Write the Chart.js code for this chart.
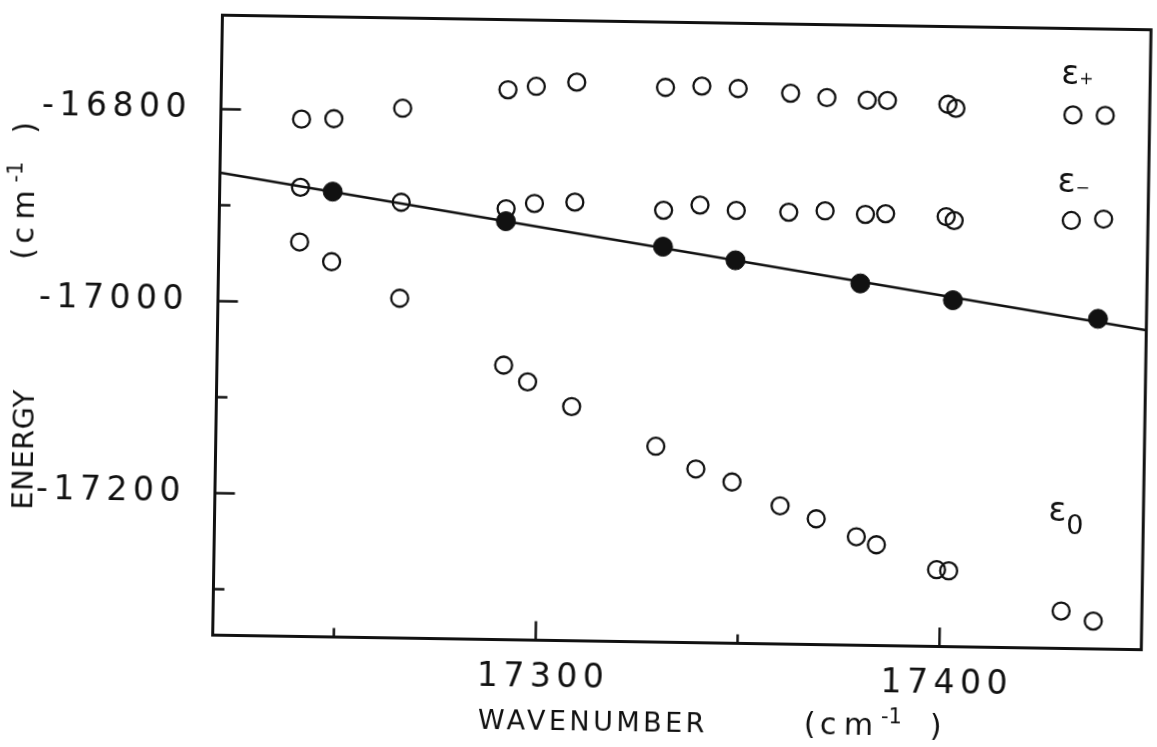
<!DOCTYPE html>
<html>
<head>
<meta charset="utf-8">
<script src="https://cdn.jsdelivr.net/npm/chart.js@4.4.1/dist/chart.umd.min.js"></script>
<style>
  html, body { margin: 0; padding: 0; background: #fff; overflow: hidden; }
  #wrap { position: relative; width: 1157px; height: 747px; background: #fff;
          transform: rotate(0.9deg); transform-origin: 685.5px 332.5px; }
</style>
</head>
<body>
<div id="wrap"><canvas id="grafico"></canvas></div>
<script>
// niveis abertos (epsilon +, -, 0)
const ePlusX = [17240, 17248, 17265, 17291, 17298, 17308, 17330, 17339, 17348, 17361, 17370, 17380, 17385, 17400, 17402, 17431, 17439];
const ePlusY = [-16809, -16808, -16796, -16775, -16771, -16766, -16770, -16768, -16770, -16774, -16778, -16780, -16780, -16783, -16787, -16792, -16792];

const eMinusX = [17240, 17265, 17291, 17298, 17308, 17330, 17339, 17348, 17361, 17370, 17380, 17385, 17400, 17402, 17431, 17439];
const eMinusY = [-16880, -16894, -16899, -16893, -16891, -16898, -16892, -16897, -16898, -16896, -16899, -16898, -16900, -16904, -16902, -16900];

const eZeroX = [17240, 17248, 17265, 17291, 17297, 17308, 17329, 17339, 17348, 17360, 17369, 17379, 17384, 17399, 17402, 17430, 17438];
const eZeroY = [-16937, -16957, -16994, -17062, -17079, -17104, -17144, -17167, -17180, -17204, -17217, -17235, -17243, -17268, -17269, -17309, -17319];

// pontos cheios e reta ajustada
const cheioX = [17248, 17291, 17330, 17348, 17379, 17402, 17438];
const cheioY = [-16884, -16912, -16936, -16949, -16971, -16987, -17004];
const retaX = [17220, 17450];
const retaY = [-16866, -17015];

const xTicks = [17250, 17300, 17350, 17400];
const xTickLabels = ['', '17300', '', '17400'];
const yTicks = [-17300, -17200, -17100, -17000, -16900, -16800];
const yTickLabels = ['', '-17200', '', '-17000', '', '-16800'];

const tinta = '#111';
const fonte = '"DejaVu Sans", sans-serif';

function pontos(xs, ys) {
  return xs.map((x, i) => ({ x: x, y: ys[i] }));
}

function circuloAberto(nome, xs, ys) {
  return {
    label: nome,
    data: pontos(xs, ys),
    pointRadius: 8.5,
    pointBorderWidth: 2.3,
    pointBorderColor: tinta,
    pointBackgroundColor: 'rgba(0,0,0,0)',
    order: 2
  };
}

// "(cm-1 )" com o expoente elevado
function unidade(ctx, x, y) {
  ctx.textAlign = 'left';
  ctx.letterSpacing = '0px';
  ctx.font = '30px ' + fonte;
  ctx.fillText('(', x, y);
  ctx.fillText('c', x + 16, y);
  ctx.fillText('m', x + 40, y);
  ctx.fillText(')', x + 126, y);
  ctx.font = '21px ' + fonte;
  ctx.fillText('-1', x + 77, y - 12);
}

function epsilon(ctx, px, py, sub, tamSub, descida) {
  ctx.textAlign = 'left';
  ctx.letterSpacing = '0px';
  ctx.font = '33px ' + fonte;
  ctx.fillText('ε', px, py);
  const w = ctx.measureText('ε').width;
  ctx.font = tamSub + 'px ' + fonte;
  ctx.fillText(sub, px + w, py + descida);
}

const moldura = {
  id: 'moldura',
  beforeLayout(chart) { chart.ctx.letterSpacing = '5.5px'; },
  beforeDraw(chart) { chart.ctx.letterSpacing = '5.5px'; },
  afterDraw(chart) {
    const ctx = chart.ctx;
    const a = chart.chartArea;
    const sx = chart.scales.x;
    const sy = chart.scales.y;
    ctx.save();
    ctx.strokeStyle = tinta;
    ctx.fillStyle = tinta;
    ctx.lineWidth = 3;
    ctx.strokeRect(a.left, a.top, a.right - a.left, a.bottom - a.top);

    // marcas para dentro
    ctx.lineWidth = 2.5;
    ctx.beginPath();
    xTicks.forEach((v, i) => {
      const px = sx.getPixelForValue(v);
      ctx.moveTo(px, a.bottom);
      ctx.lineTo(px, a.bottom - (xTickLabels[i] ? 19 : 9));
    });
    yTicks.forEach((v, i) => {
      const py = sy.getPixelForValue(v);
      ctx.moveTo(a.left, py);
      ctx.lineTo(a.left + (yTickLabels[i] ? 20 : 11), py);
    });
    ctx.stroke();

    // titulos dos eixos
    ctx.textBaseline = 'alphabetic';
    ctx.letterSpacing = '3.5px';
    ctx.font = '27px ' + fonte;
    ctx.textAlign = 'left';
    ctx.fillText('WAVENUMBER', 484, 732);
    unidade(ctx, 810, 732);

    ctx.save();
    ctx.translate(35, 460);
    ctx.rotate(-Math.PI / 2);
    ctx.letterSpacing = '0.5px';
    ctx.textAlign = 'center';
    ctx.font = '29px ' + fonte;
    ctx.fillText('ENERGY', 0, 0);
    ctx.restore();

    ctx.save();
    ctx.translate(32, 270);
    ctx.rotate(-Math.PI / 2);
    unidade(ctx, 0, 0);
    ctx.restore();

    // rotulos dos niveis
    epsilon(ctx, sx.getPixelForValue(17428), sy.getPixelForValue(-16760), '+', 17, 0);
    epsilon(ctx, sx.getPixelForValue(17427.5), sy.getPixelForValue(-16872), '−', 17, 1);
    epsilon(ctx, sx.getPixelForValue(17426.5), sy.getPixelForValue(-17215), '0', 27, 13);
    ctx.restore();
  }
};

new Chart(document.getElementById('grafico'), {
  type: 'scatter',
  data: {
    datasets: [
      circuloAberto('ε+', ePlusX, ePlusY),
      circuloAberto('ε-', eMinusX, eMinusY),
      circuloAberto('ε0', eZeroX, eZeroY),
      {
        label: 'cheios',
        data: pontos(cheioX, cheioY),
        pointRadius: 9.5,
        pointBorderWidth: 1,
        pointBorderColor: tinta,
        pointBackgroundColor: tinta,
        order: 1
      },
      {
        label: 'reta',
        data: pontos(retaX, retaY),
        showLine: true,
        borderColor: tinta,
        borderWidth: 2.5,
        pointRadius: 0,
        order: 5
      }
    ]
  },
  options: {
    responsive: true,
    maintainAspectRatio: false,
    animation: false,
    layout: { padding: { top: 22.5, right: 3.5, bottom: 0, left: 0 } },
    plugins: { legend: { display: false }, tooltip: { enabled: false } },
    scales: {
      x: {
        type: 'linear',
        min: 17220,
        max: 17450,
        grid: { display: false, drawTicks: false },
        border: { display: false },
        afterBuildTicks: s => { s.ticks = xTicks.map(v => ({ value: v })); },
        afterFit: s => {
          s.height = 747 - 642.5;
          s.paddingLeft = 0;
          s.paddingRight = 0;
        },
        ticks: {
          padding: 18,
          labelOffset: 8,
          autoSkip: false,
          maxRotation: 0,
          color: tinta,
          font: { family: fonte, size: 33 },
          callback: v => xTickLabels[xTicks.indexOf(v)]
        }
      },
      y: {
        type: 'linear',
        min: -17348,
        max: -16702,
        grid: { display: false, drawTicks: false },
        border: { display: false },
        afterBuildTicks: s => { s.ticks = yTicks.map(v => ({ value: v })); },
        afterFit: s => {
          s.width = 217.5;
          s.paddingTop = 0;
          s.paddingBottom = 0;
        },
        ticks: {
          padding: 29,
          autoSkip: false,
          color: tinta,
          font: { family: fonte, size: 33 },
          callback: v => yTickLabels[yTicks.indexOf(v)]
        }
      }
    }
  },
  plugins: [moldura]
});
</script>
</body>
</html>
